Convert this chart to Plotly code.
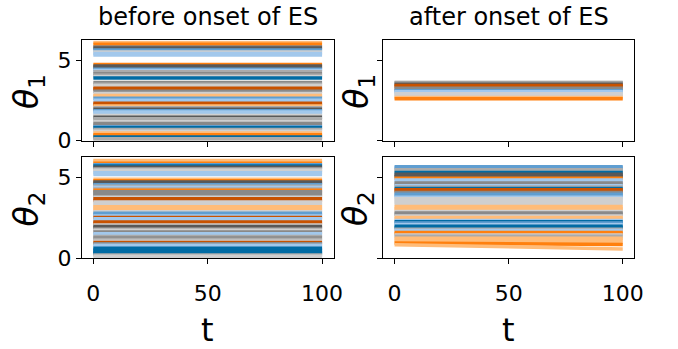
import plotly.graph_objects as go
import math

# ---------------- data ----------------
t_points = [0, 100]

palette = {
    "blue": "#006BA4", "orange": "#FF800E", "grayab": "#ABABAB", "darkgray": "#595959",
    "midblue": "#5F9ED1", "darkorange": "#C85200", "gray89": "#898989",
    "lightblue": "#A2C8EC", "lightorange": "#FFBC79", "lightgray": "#CFCFCF",
}

# theta_1 before onset of ES: (value at t=0, value at t=100), color
theta1_before_start = [6.13, 6.02, 5.86, 5.79, 5.66, 5.54, 5.45, 5.36, 4.76, 4.66, 4.58, 4.47, 4.38, 4.30,
                       4.18, 4.08, 4.00, 3.91, 3.64, 3.52, 3.44, 3.28, 3.22, 3.09, 2.95, 2.82, 2.74, 2.64,
                       2.53, 2.34, 2.28, 2.16, 2.06, 1.96, 1.86, 1.78, 1.68, 1.57, 1.46, 1.36, 1.28, 1.18,
                       1.06, 0.97, 0.86, 0.80, 0.70, 0.58, 0.48, 0.36, 0.30, 0.23, 0.12, 0.05]
theta1_before_end = theta1_before_start
theta1_before_color = ["lightorange", "orange", "gray89", "darkgray", "midblue", "lightgray", "lightblue",
                       "lightblue", "orange", "darkgray", "darkgray", "midblue", "lightblue", "grayab",
                       "gray89", "grayab", "lightgray", "blue", "gray89", "grayab", "lightgray",
                       "darkorange", "darkorange", "gray89", "lightgray", "lightorange", "lightorange",
                       "midblue", "lightblue", "darkorange", "darkorange", "lightorange", "grayab",
                       "darkgray", "midblue", "lightblue", "lightblue", "lightgray", "darkgray", "grayab",
                       "grayab", "lightgray", "gray89", "gray89", "midblue", "blue", "grayab", "lightgray",
                       "lightorange", "orange", "orange", "blue", "grayab", "grayab"]

theta1_after_start = [3.64, 3.60, 3.52, 3.44, 3.38, 3.28, 3.20, 3.12, 3.06, 3.00, 2.93, 2.85, 2.78, 2.70, 2.62]
theta1_after_end = theta1_after_start
theta1_after_color = ["gray89", "grayab", "darkgray", "darkorange", "darkorange", "gray89", "gray89",
                      "midblue", "lightblue", "lightblue", "lightgray", "lightgray", "lightgray",
                      "lightorange", "orange"]

theta2_before_start = [6.05, 5.98, 5.88, 5.78, 5.70, 5.62, 5.52, 5.44, 5.36, 5.28, 5.18, 4.88, 4.80, 4.72,
                       4.64, 4.55, 4.46, 4.38, 4.28, 4.20, 4.12, 4.05, 3.96, 3.86, 3.78, 3.68, 3.58, 3.48,
                       3.38, 3.28, 3.18, 3.08, 2.98, 2.88, 2.78, 2.70, 2.62, 2.52, 2.44, 2.34, 2.24, 2.16,
                       2.06, 1.96, 1.90, 1.80, 1.72, 1.62, 1.52, 1.44, 1.34, 1.26, 1.16, 1.06, 0.98, 0.90,
                       0.80, 0.70, 0.62, 0.52, 0.44, 0.36, 0.28, 0.20, 0.12]
theta2_before_end = theta2_before_start
theta2_before_color = ["lightorange", "lightorange", "orange", "midblue", "blue", "darkgray", "grayab",
                       "lightgray", "lightgray", "lightblue", "lightblue", "lightorange", "orange",
                       "darkgray", "darkgray", "midblue", "grayab", "lightblue", "grayab", "orange",
                       "gray89", "gray89", "gray89", "gray89", "lightgray", "darkorange", "darkorange",
                       "lightgray", "lightgray", "lightgray", "lightorange", "lightorange", "lightorange",
                       "lightgray", "midblue", "midblue", "lightblue", "darkorange", "lightblue",
                       "lightblue", "darkorange", "darkorange", "lightgray", "darkgray", "darkgray",
                       "grayab", "lightgray", "gray89", "lightblue", "lightblue", "grayab", "gray89",
                       "grayab", "lightgray", "darkorange", "gray89", "lightblue", "lightblue", "blue",
                       "blue", "blue", "blue", "blue", "grayab", "lightgray"]

theta2_after_start = [5.66, 5.58, 5.48, 5.40, 5.30, 5.20, 5.12, 5.04, 4.94, 4.84, 4.76, 4.66, 4.56, 4.48,
                      4.40, 4.32, 4.24, 4.16, 4.06, 3.96, 3.88, 3.78, 3.68, 3.58, 3.48, 3.36, 3.20, 3.10,
                      3.02, 2.90, 2.80, 2.72, 2.62, 2.52, 2.44, 2.34, 2.26, 2.18, 2.08, 1.98, 1.90, 1.80,
                      1.72, 1.60, 1.52, 1.44, 1.36, 1.24, 1.14, 1.04, 0.94, 0.84]
theta2_after_end = [5.66, 5.58, 5.48, 5.40, 5.30, 5.20, 5.12, 5.04, 4.94, 4.84, 4.76, 4.66, 4.56, 4.48,
                    4.40, 4.32, 4.24, 4.16, 4.06, 3.96, 3.88, 3.78, 3.68, 3.58, 3.48, 3.36, 3.20, 3.10,
                    3.02, 2.90, 2.80, 2.72, 2.62, 2.52, 2.44, 2.34, 2.26, 2.18, 2.08, 1.98, 1.90, 1.80,
                    1.72, 1.60, 1.52, 1.44, 1.36, 1.24, 1.14, 0.98, 0.86, 0.58]
theta2_after_color = ["midblue", "midblue", "grayab", "grayab", "blue", "darkgray", "darkgray", "darkgray",
                      "orange", "lightblue", "lightblue", "gray89", "gray89", "lightblue", "grayab", "blue",
                      "darkorange", "darkorange", "gray89", "midblue", "midblue", "lightblue", "lightgray",
                      "lightgray", "lightgray", "lightgray", "lightorange", "lightorange", "lightorange",
                      "lightgray", "gray89", "gray89", "lightgray", "lightorange", "lightorange",
                      "lightblue", "blue", "midblue", "lightblue", "blue", "blue", "grayab", "lightblue",
                      "orange", "orange", "lightgray", "grayab", "lightorange", "lightorange",
                      "lightorange", "orange", "lightorange"]

titles = ["before onset of ES", "after onset of ES"]
x_ticks = [0, 50, 100]
y_ticks = [0, 5]

# ---------------- figure ----------------
fig = go.Figure()

panels = [
    ("x", "y", theta1_before_start, theta1_before_end, theta1_before_color),
    ("x2", "y2", theta1_after_start, theta1_after_end, theta1_after_color),
    ("x3", "y3", theta2_before_start, theta2_before_end, theta2_before_color),
    ("x4", "y4", theta2_after_start, theta2_after_end, theta2_after_color),
]
for xa, ya, s, e, c in panels:
    for v0, v1, col in zip(s, e, c):
        fig.add_trace(go.Scatter(x=t_points, y=[v0, v1], mode="lines",
                                 line=dict(color=palette[col], width=3.5),
                                 xaxis=xa, yaxis=ya, showlegend=False, hoverinfo="skip"))

W, H = 678, 349
colx = [(83 / W, 338 / W), (388.3 / W, 642.7 / W)]
rowy = [((349 - 146) / H, (349 - 41.7) / H), ((349 - 268.3) / H, (349 - 162.7) / H)]

tickfont = dict(family="DejaVu Sans", size=22, color="black")
common = dict(showline=True, mirror=True, linecolor="black", linewidth=1.2, ticks="outside",
              ticklen=5, tickwidth=1.2, tickcolor="black", showgrid=False, zeroline=False,
              tickfont=tickfont, fixedrange=True)

layout = {}
idx = 0
for r in range(2):
    for cidx in range(2):
        idx += 1
        sfx = "" if idx == 1 else str(idx)
        layout["xaxis" + sfx] = dict(domain=colx[cidx], range=[-5, 105], tickvals=x_ticks,
                                     showticklabels=(r == 1), anchor="y" + sfx,
                                     ticklabelstandoff=10, **common)
        layout["yaxis" + sfx] = dict(domain=rowy[r], range=[0, 2 * math.pi], tickvals=y_ticks,
                                     showticklabels=(cidx == 0), anchor="x" + sfx, **common)

fig.update_layout(**layout)

ann = []
for cidx in range(2):
    cx = (colx[cidx][0] + colx[cidx][1]) / 2
    ann.append(dict(text=titles[cidx], x=cx, y=(H - 18) / H, xref="paper", yref="paper",
                    showarrow=False, xanchor="center", yanchor="middle",
                    font=dict(family="DejaVu Sans", size=24, color="black")))
    ann.append(dict(text="t", x=cx, y=(H - 343) / H, xref="paper", yref="paper",
                    showarrow=False, xanchor="center", yanchor="middle",
                    font=dict(family="DejaVu Sans", size=32, color="black")))
ylab_x = [29 / W, 363 / W]
ylab_y = [(H - 95) / H, (H - 217) / H]
for r, lab in enumerate(["<i>θ</i><sub>1</sub>", "<i>θ</i><sub>2</sub>"]):
    for cidx in range(2):
        ann.append(dict(text=lab, x=ylab_x[cidx], y=ylab_y[r], xref="paper", yref="paper",
                        showarrow=False, xanchor="center", yanchor="middle", textangle=-90,
                        font=dict(family="DejaVu Sans", size=33, color="black")))

fig.update_layout(annotations=ann, width=W, height=H, margin=dict(l=0, r=0, t=0, b=0),
                  paper_bgcolor="white", plot_bgcolor="white", showlegend=False)

fig.write_html("out.html", config={"displayModeBar": False})
